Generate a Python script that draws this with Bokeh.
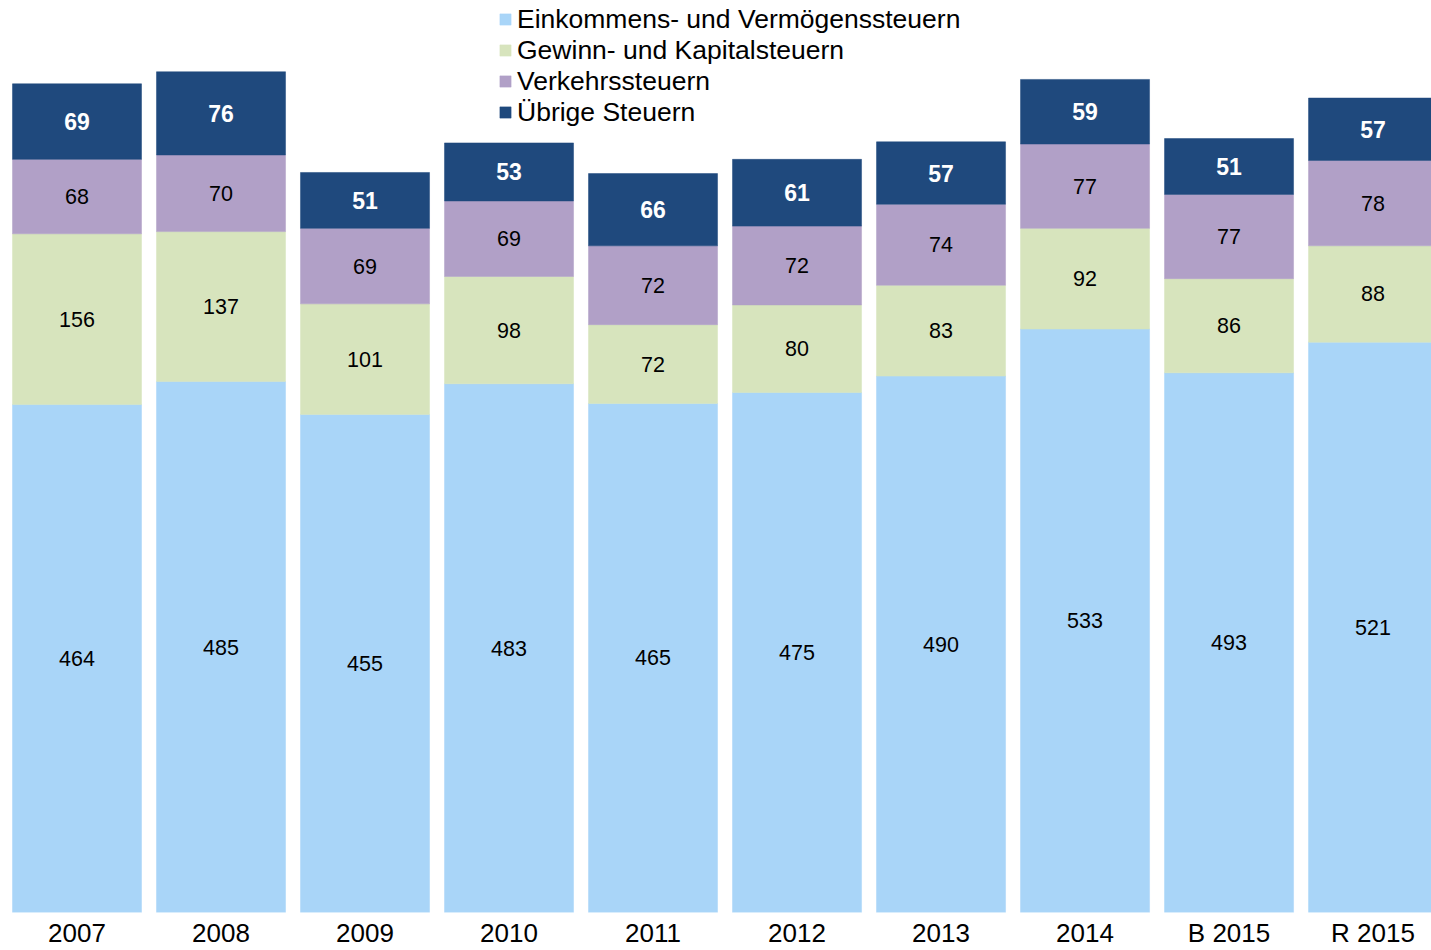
from bokeh.plotting import figure
from bokeh.models import ColumnDataSource, Legend, LegendItem, FixedTicker, Range1d
from bokeh.core.properties import value
from bokeh.embed import file_html
from bokeh.resources import INLINE

categories = ["2007", "2008", "2009", "2010", "2011", "2012", "2013", "2014", "B 2015", "R 2015"]
einkommen = [464, 485, 455, 483, 465, 475, 490, 533, 493, 521]
gewinn = [156, 137, 101, 98, 72, 80, 83, 92, 86, 88]
verkehr = [68, 70, 69, 69, 72, 72, 74, 77, 77, 78]
uebrige = [69, 76, 51, 53, 66, 61, 57, 59, 51, 57]

series_names = ["Einkommens- und Vermögenssteuern", "Gewinn- und Kapitalsteuern",
                "Verkehrssteuern", "Übrige Steuern"]
series_keys = ["einkommen", "gewinn", "verkehr", "uebrige"]
colors = ["#A9D5F8", "#D7E4BD", "#B1A0C7", "#1F497D"]

FONT = "Liberation Sans"
PX_PER_UNIT = 1.0947

W, H = 1431, 950
frame_h = 912.0
p = figure(width=W, height=H, output_backend="svg", toolbar_location=None,
           x_range=Range1d(-0.53125, 9.406), y_range=Range1d(0, frame_h / PX_PER_UNIT),
           min_border_left=0, min_border_right=0, min_border_top=0, min_border_bottom=0)
p.outline_line_color = None
p.xgrid.visible = False
p.ygrid.visible = False
p.yaxis.visible = False
p.background_fill_color = "white"
p.border_fill_color = "white"

xs = list(range(len(categories)))
data = dict(x=xs, einkommen=einkommen, gewinn=gewinn, verkehr=verkehr, uebrige=uebrige)
src = ColumnDataSource(data)

renderers = p.vbar_stack(series_keys, x="x", width=0.896, color=colors,
                         line_color=colors, line_width=0.5, source=src)

# labels at segment middles
bottoms = [0] * len(xs)
for key, vals in zip(series_keys, [einkommen, gewinn, verkehr, uebrige]):
    mids = [b + v / 2 for b, v in zip(bottoms, vals)]
    lsrc = ColumnDataSource(dict(x=xs, y=mids, t=[str(v) for v in vals]))
    is_top = key == "uebrige"
    p.text(x="x", y="y", text="t", source=lsrc, text_align="center",
           text_baseline="middle", text_font=value(FONT),
           text_font_size="23px" if is_top else "21.5px",
           text_color="white" if is_top else "black",
           text_font_style="bold" if is_top else "normal")
    bottoms = [b + v for b, v in zip(bottoms, vals)]

xaxis = p.xaxis[0]
xaxis.ticker = FixedTicker(ticks=xs)
xaxis.major_label_overrides = {i: c for i, c in enumerate(categories)}
xaxis.axis_line_color = None
xaxis.major_tick_line_color = None
xaxis.minor_tick_line_color = None
xaxis.major_tick_out = 0
xaxis.major_tick_in = 0
xaxis.major_label_standoff = 5
xaxis.major_label_text_font = FONT
xaxis.major_label_text_font_size = "26px"
xaxis.major_label_text_color = "black"

items = [LegendItem(label=n, renderers=[r]) for n, r in zip(series_names, renderers)]
legend_h = 4 * 31
legend = Legend(items=items, location=(498, frame_h - 3.5 - legend_h),
                glyph_width=14, glyph_height=14, label_height=14, spacing=0,
                label_standoff=5, padding=0, margin=0,
                label_text_font=FONT, label_text_font_size="26.5px",
                label_text_color="black", border_line_color=None,
                background_fill_alpha=0)
p.add_layout(legend, "center")

open("out.html", "w").write(file_html(p, INLINE))
